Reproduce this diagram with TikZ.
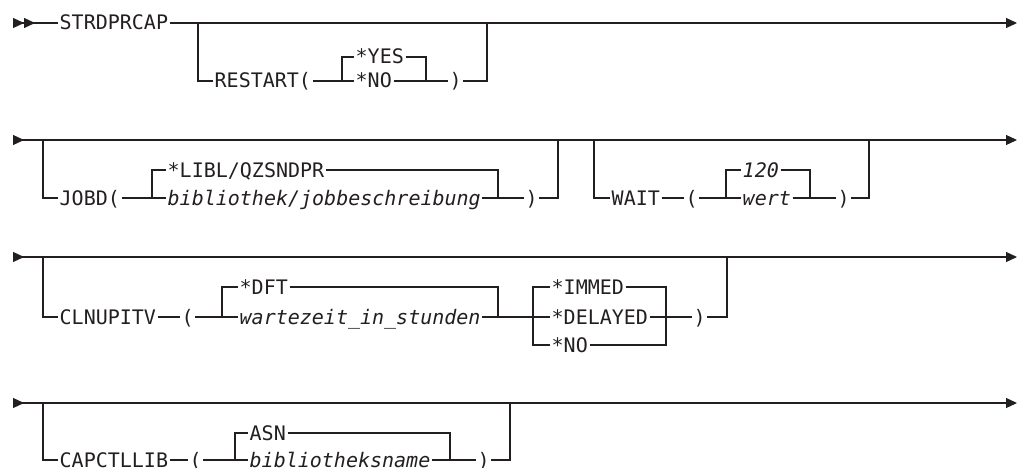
\documentclass[tikz,border=0pt]{standalone}
\usepackage{fontspec}
\setmonofont{DejaVu Sans Mono}[ItalicFont={DejaVu Sans Mono Oblique}]
\usetikzlibrary{arrows.meta}
\definecolor{ink}{HTML}{231F20}
\begin{document}
\begin{tikzpicture}[x=1pt,y=-1pt,
	rail/.style={line width=1.1pt,draw=ink},
	word/.style={anchor=west,inner xsep=1.5pt,inner ysep=0pt,text height=14pt,text depth=0pt,text=ink,font=\fontsize{20}{24}\selectfont\ttfamily},
	var/.style={word,font=\fontsize{20}{24}\selectfont\ttfamily\itshape},
	goarrow/.style={-{Triangle[length=11pt,width=10pt]}},
	rowarrow/.style={{Triangle[length=11pt,width=10pt,reversed]}-{Triangle[length=11pt,width=10pt]}},
	twoarrow/.style={{Triangle[length=11pt,width=10pt,reversed]Triangle[length=11pt,width=10pt,reversed]}-}]
	\useasboundingbox (0,0) rectangle (1019,468);
	% zeile 1
	\coordinate (s1) at (13,23);  \coordinate (e1) at (1017,23);
	\coordinate (b1l) at (198,23); \coordinate (b1r) at (487,23);
	\coordinate (c1l) at (342,81); \coordinate (c1r) at (426,81);
	\node[word] (strd) at (58,23) {STRDPRCAP};
	\node[word] (restart) at (213,81) {RESTART(};
	\node[word] (yes) at (354,57) {*YES};
	\node[word] (no1) at (354,81) {*NO};
	\node[word] (rp1) at (448,81) {)};
	\draw[rail,twoarrow] (s1) -- (strd.west);
	\draw[rail,goarrow] (strd.east) -- (e1);
	\draw[rail] (b1l) |- (restart.west);
	\draw[rail] (restart.east) -- (c1l) |- (yes.west);
	\draw[rail] (c1l) -- (no1.west);
	\draw[rail] (yes.east) -| (c1r) -- (rp1.west);
	\draw[rail] (no1.east) -- (c1r);
	\draw[rail] (rp1.east) -| (b1r);
	% zeile 2
	\coordinate (s2) at (13,140);  \coordinate (e2) at (1017,140);
	\coordinate (b2l) at (43,140); \coordinate (b2r) at (558,140);
	\coordinate (c2l) at (152,198); \coordinate (c2r) at (498,198);
	\coordinate (b3l) at (594,140); \coordinate (b3r) at (869,140);
	\coordinate (c3l) at (726,198); \coordinate (c3r) at (810,198);
	\node[word] (jobd) at (58,198) {JOBD(};
	\node[word] (libl) at (166,170) {*LIBL/QZSNDPR};
	\node[var] (bib) at (166,198) {bibliothek/jobbeschreibung};
	\node[word] (rp2) at (524,198) {)};
	\node[word] (wait) at (610,198) {WAIT};
	\node[word] (lp3) at (684,198) {(};
	\node[var] (v120) at (741,170) {120};
	\node[var] (wert) at (741,198) {wert};
	\node[word] (rp3) at (836,198) {)};
	\draw[rail,rowarrow] (s2) -- (e2);
	\draw[rail] (b2l) |- (jobd.west);
	\draw[rail] (jobd.east) -- (c2l) |- (libl.west);
	\draw[rail] (c2l) -- (bib.west);
	\draw[rail] (libl.east) -| (c2r) -- (rp2.west);
	\draw[rail] (bib.east) -- (c2r);
	\draw[rail] (rp2.east) -| (b2r);
	\draw[rail] (b3l) |- (wait.west);
	\draw[rail] (wait.east) -- (lp3.west);
	\draw[rail] (lp3.east) -- (c3l) |- (v120.west);
	\draw[rail] (c3l) -- (wert.west);
	\draw[rail] (v120.east) -| (c3r) -- (rp3.west);
	\draw[rail] (wert.east) -- (c3r);
	\draw[rail] (rp3.east) -| (b3r);
	% zeile 3
	\coordinate (s3) at (13,257);  \coordinate (e3) at (1017,257);
	\coordinate (b4l) at (43,257); \coordinate (b4r) at (727,257);
	\coordinate (c4l) at (222,317); \coordinate (c4r) at (498,317);
	\coordinate (c5l) at (533,317); \coordinate (c5r) at (666,317);
	\node[word] (cln) at (58,317) {CLNUPITV};
	\node[word] (lp4) at (180,317) {(};
	\node[word] (dft) at (238,287) {*DFT};
	\node[var] (wart) at (238,317) {wartezeit\_in\_stunden};
	\node[word] (immed) at (550,287) {*IMMED};
	\node[word] (delay) at (550,317) {*DELAYED};
	\node[word] (no2) at (550,345) {*NO};
	\node[word] (rp4) at (692,317) {)};
	\draw[rail,rowarrow] (s3) -- (e3);
	\draw[rail] (b4l) |- (cln.west);
	\draw[rail] (cln.east) -- (lp4.west);
	\draw[rail] (lp4.east) -- (c4l) |- (dft.west);
	\draw[rail] (c4l) -- (wart.west);
	\draw[rail] (dft.east) -| (c4r) -- (c5l) |- (immed.west);
	\draw[rail] (wart.east) -- (c4r);
	\draw[rail] (c5l) -- (delay.west);
	\draw[rail] (c5l) |- (no2.west);
	\draw[rail] (immed.east) -| (c5r) -- (rp4.west);
	\draw[rail] (delay.east) -- (c5r);
	\draw[rail] (no2.east) -| (c5r);
	\draw[rail] (rp4.east) -| (b4r);
	% zeile 4
	\coordinate (s4) at (13,403);  \coordinate (e4) at (1017,403);
	\coordinate (b5l) at (43,403); \coordinate (b5r) at (510,403);
	\coordinate (c6l) at (235,460); \coordinate (c6r) at (450,460);
	\node[word] (cap) at (58,460) {CAPCTLLIB};
	\node[word] (lp5) at (188,460) {(};
	\node[word] (asn) at (248,433) {ASN};
	\node[var] (bibn) at (248,460) {bibliotheksname};
	\node[word] (rp5) at (476,460) {)};
	\draw[rail,rowarrow] (s4) -- (e4);
	\draw[rail] (b5l) |- (cap.west);
	\draw[rail] (cap.east) -- (lp5.west);
	\draw[rail] (lp5.east) -- (c6l) |- (asn.west);
	\draw[rail] (c6l) -- (bibn.west);
	\draw[rail] (asn.east) -| (c6r) -- (rp5.west);
	\draw[rail] (bibn.east) -- (c6r);
	\draw[rail] (rp5.east) -| (b5r);
\end{tikzpicture}
\end{document}
